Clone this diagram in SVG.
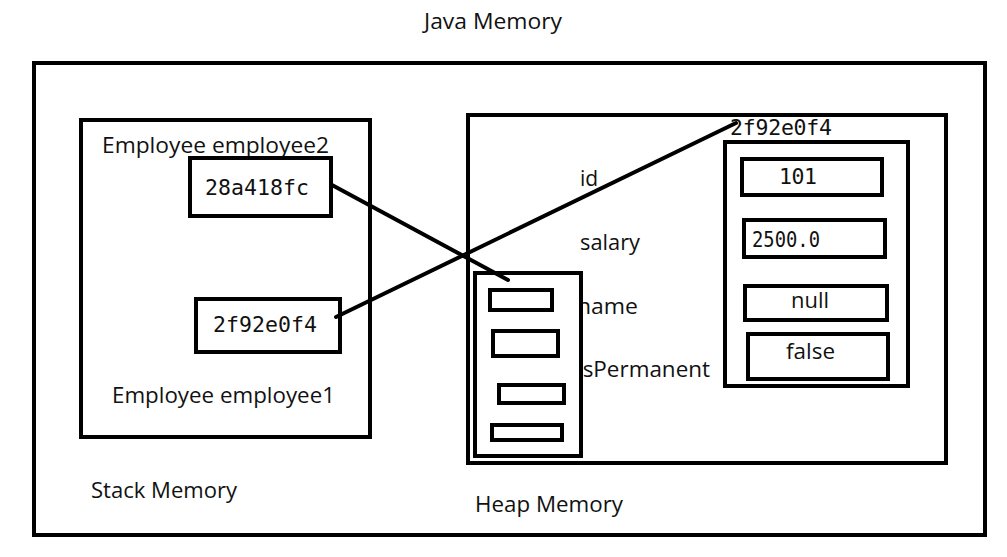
<svg xmlns="http://www.w3.org/2000/svg" width="1007" height="557" viewBox="0 0 1007 557">
<style>
.box{fill:#fff;stroke:#000;stroke-width:4}
.nf{fill:none;stroke:#000;stroke-width:4}
.t{font-family:"Open Sans","Noto Sans",sans-serif;font-size:21px;fill:#111}
.m{font-family:"DejaVu Sans Mono","Liberation Mono",monospace;font-size:21.5px;fill:#111}
.c{fill:none;stroke:#000;stroke-width:4;stroke-linecap:round}
</style>
<rect width="1007" height="557" fill="#fff"/>
<text class="t" x="424" y="29" textLength="138" lengthAdjust="spacingAndGlyphs">Java Memory</text>
<g id="java-memory"><rect class="nf" x="34" y="63" width="951" height="472"/></g>
<g id="stack">
<rect class="nf" x="81" y="120" width="289" height="317"/>
<text class="t" x="102" y="153" textLength="227" lengthAdjust="spacingAndGlyphs">Employee employee2</text>
<text class="t" x="112" y="403" textLength="223" lengthAdjust="spacingAndGlyphs">Employee employee1</text>
<text class="t" x="91" y="498" textLength="146" lengthAdjust="spacingAndGlyphs">Stack Memory</text>
</g>
<g id="employee2"><rect class="box" x="190" y="158" width="141" height="58"/><text class="m" x="205" y="195" textLength="104">28a418fc</text></g>
<g id="employee1"><rect class="box" x="196" y="299" width="144" height="53"/><text class="m" x="213" y="332" textLength="104">2f92e0f4</text></g>
<g id="heap">
<rect class="nf" x="468" y="115" width="478" height="348"/>
<text class="t" x="475" y="512" textLength="148" lengthAdjust="spacingAndGlyphs">Heap Memory</text>
<text class="t" x="580" y="186">id</text>
<text class="t" x="580" y="250" textLength="60" lengthAdjust="spacingAndGlyphs">salary</text>
<text class="t" x="577" y="314" textLength="61" lengthAdjust="spacingAndGlyphs">name</text>
<text class="t" x="577" y="377" textLength="133" lengthAdjust="spacingAndGlyphs">isPermanent</text>
</g>
<g id="object-28a418fc">
<rect class="box" x="475" y="273" width="106" height="183"/>
<rect class="nf" x="490" y="290" width="62" height="20"/>
<rect class="nf" x="493" y="331" width="65" height="25"/>
<rect class="nf" x="499" y="385" width="65" height="18"/>
<rect class="nf" x="492" y="425" width="70" height="15"/>
</g>
<g id="object-2f92e0f4">
<text class="m" x="730" y="135" textLength="102">2f92e0f4</text>
<rect class="nf" x="725" y="142" width="183" height="244"/>
<rect class="nf" x="742" y="159" width="140" height="36"/>
<text class="m" x="779" y="184" textLength="38">101</text>
<rect class="nf" x="744" y="220" width="141" height="37"/>
<text class="m" x="752" y="247" textLength="68" lengthAdjust="spacingAndGlyphs">2500.0</text>
<rect class="nf" x="745" y="286" width="142" height="34"/>
<text class="t" x="791" y="308" textLength="38" lengthAdjust="spacingAndGlyphs">null</text>
<rect class="nf" x="748" y="334" width="140" height="45"/>
<text class="t" x="786" y="359" textLength="49" lengthAdjust="spacingAndGlyphs">false</text>
</g>
<g id="connectors">
<line class="c" x1="332" y1="185" x2="508" y2="280"/>
<line class="c" x1="336" y1="317" x2="736" y2="123"/>
</g>
</svg>
